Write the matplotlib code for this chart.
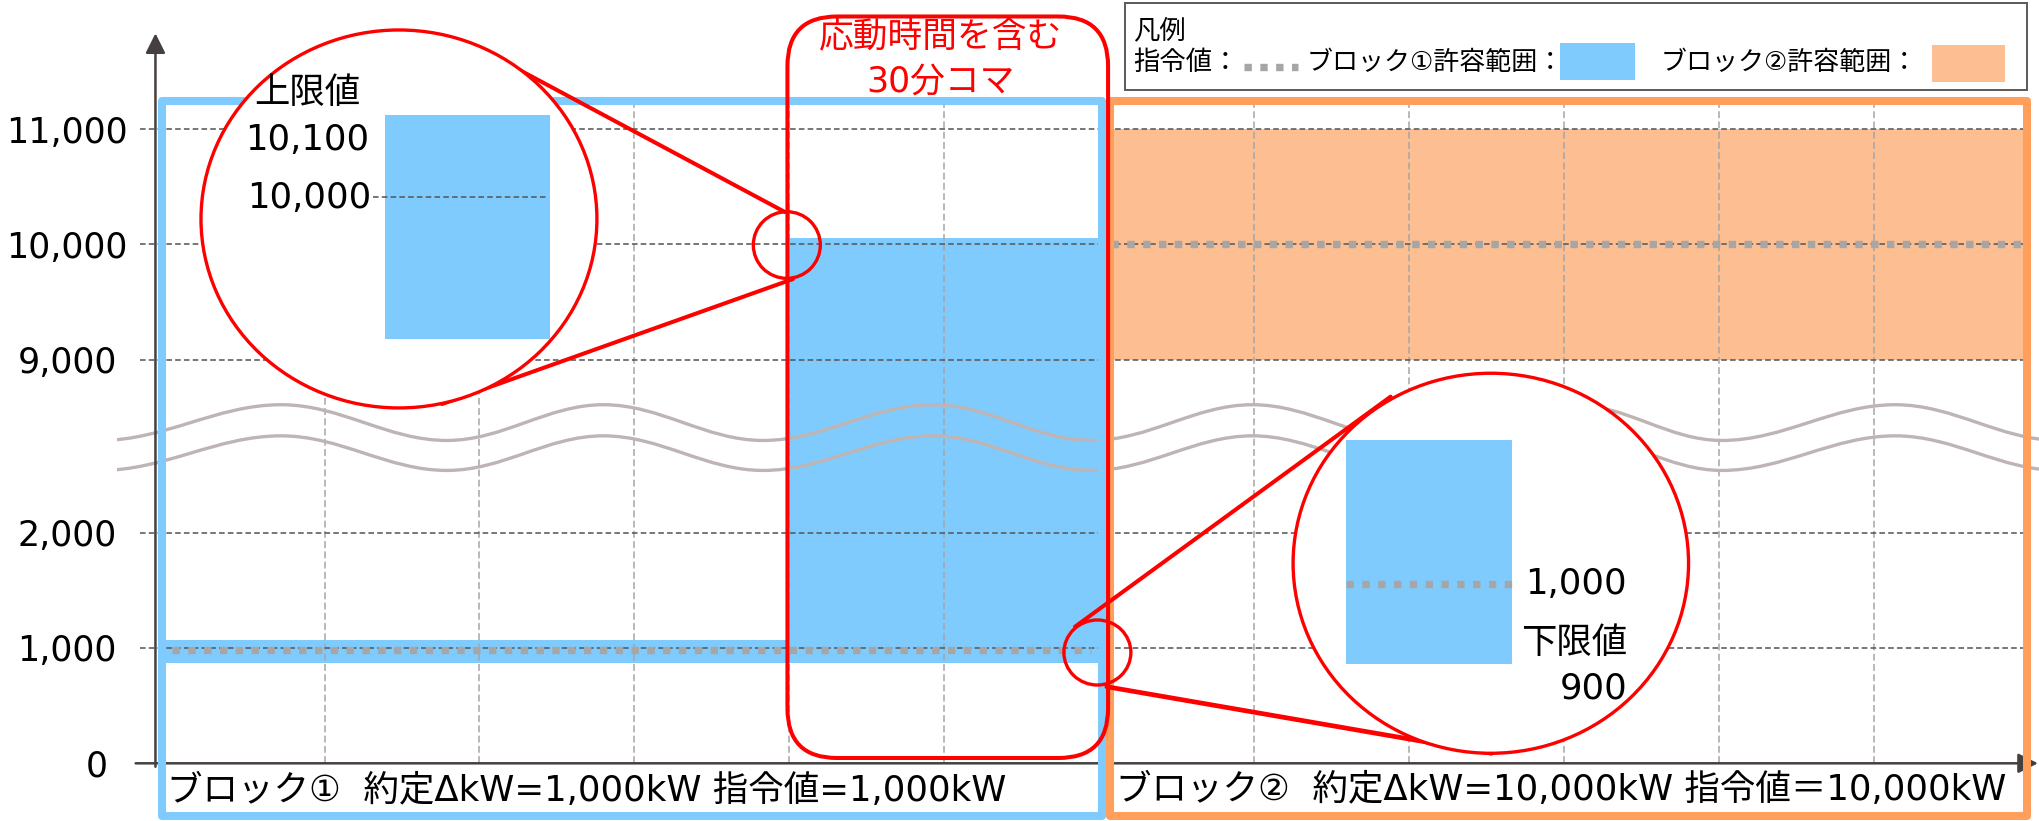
import numpy as np
import matplotlib.pyplot as plt
from matplotlib.patches import Rectangle, Ellipse, FancyBboxPatch, PathPatch
from matplotlib.path import Path

plt.rcParams['font.family'] = ['DejaVu Sans', 'Noto Sans CJK JP']

# --- data (kW) ---
ytick_values = [0, 1000, 2000, 9000, 10000, 11000]
ytick_labels = ['0', '1,000', '2,000', '9,000', '10,000', '11,000']
grid_values = [1000, 2000, 9000, 10000, 11000]
vgrid_x = list(range(1, 12))

# block 1: normal slots (0-4) and the 30 min slot with response time (4-6)
slot_edges = [-0.05, 4, 6]
b1_lower = [870, 870]
b1_upper = [1070, 10060]
b1_order = 985

# block 2
b2_x = [6.07, 12.0]
b2_lower = 9000
b2_upper = 11000
b2_order = 10000

# wavy break marks: extrema (x, upper line, lower line)
wave_x = [-0.45, 0.72, 1.79, 2.80, 3.83, 4.93, 5.95, 6.99, 8.03, 9.06, 10.02, 11.14, 12.2]
wave_hi = [2.80, 3.11] * 6 + [2.80]
wave_lo = [2.54, 2.84] * 6 + [2.54]

bottom_texts = ['ブロック①  約定ΔkW=1,000kW 指令値=1,000kW',
                'ブロック②  約定ΔkW=10,000kW 指令値＝10,000kW']

BLUE = '#80CBFE'
ORANGE_FILL = '#FDBE91'
ORANGE = '#FF9F5B'
GRAY_DOT = '#A6A6A6'
DARK = '#595959'
AXIS = '#463F3F'
WAVE = '#BEB4B4'
RED = '#FF0000'


def yb(v):
    # broken axis: 2,000-9,000 is cut away
    v = np.asarray(v, dtype=float)
    return np.where(v <= 5000, v / 1000, v / 1000 - 5.5)


fig = plt.figure(figsize=(20.39, 8.21), dpi=100)
ax = fig.add_axes([0, 0, 1, 1])
ax.set_xlim(-1.0956, 12.068)
ax.set_ylim(-0.5004, 6.620)
ax.axis('off')

# fills
ax.fill_between(slot_edges, yb(b1_lower + [b1_lower[-1]]), yb(b1_upper + [b1_upper[-1]]),
                step='post', color=BLUE, lw=0, zorder=1)
ax.fill_between(b2_x, yb(b2_lower), yb(b2_upper), color=ORANGE_FILL, lw=0, zorder=1)

# grid
ax.vlines(vgrid_x, 0, 5.74, colors=GRAY_DOT, lw=1.1, linestyles=(0, (4.5, 2.2)), zorder=2)
ax.hlines(yb(grid_values), -0.19, 12.0, colors=DARK, lw=1.15, linestyles=(0, (3.5, 2)), zorder=2)

# wavy break
for ys in (wave_hi, wave_lo):
    verts = [(wave_x[0], ys[0])]
    codes = [Path.MOVETO]
    for i in range(len(wave_x) - 1):
        dx = wave_x[i + 1] - wave_x[i]
        verts += [(wave_x[i] + 0.36 * dx, ys[i]), (wave_x[i + 1] - 0.36 * dx, ys[i + 1]),
                  (wave_x[i + 1], ys[i + 1])]
        codes += [Path.CURVE4] * 3
    pp = PathPatch(Path(verts, codes), fill=False, ec=WAVE, lw=2.4, zorder=3)
    ax.add_patch(pp)
    pp.set_clip_path(Rectangle((-0.34, -1), 20, 10, transform=ax.transData))

# command value (dotted)
dot = dict(color=GRAY_DOT, lw=5.3, ls=(0, (1, 1.15)))
ax.plot([0.015, 5.95], yb([b1_order] * 2), zorder=3.5, **dot)
ax.plot([6.08, 12.0], yb([b2_order] * 2), zorder=3.5, **dot)

# axes with arrows
arr = dict(arrowstyle='-|>,head_length=0.4,head_width=0.2', mutation_scale=30,
           color=AXIS, lw=1.8, shrinkA=0, shrinkB=0)
ax.annotate('', xy=(-0.092, 6.331), xytext=(-0.092, -0.03), arrowprops=arr, zorder=4)
ax.annotate('', xy=(12.061, 0), xytext=(-0.22, 0), arrowprops=arr, zorder=4)

for v, lab in zip(ytick_values, ytick_labels):
    ax.text(-0.47 if v == 0 else -0.662, yb(v) - 0.03, lab, ha='center', va='center',
            fontsize=25, zorder=6)

# block outlines
ax.add_patch(Rectangle((-0.05, -0.457), 6.07, 6.201, fill=False, ec=BLUE, lw=5.8,
                       joinstyle='round', zorder=5))
ax.add_patch(Rectangle((6.07, -0.457), 5.92, 6.201, fill=False, ec=ORANGE, lw=5.8,
                       joinstyle='round', zorder=5))
ax.text(-0.017, -0.24, bottom_texts[0], ha='left', va='center', fontsize=25.6, zorder=6)
ax.text(6.109, -0.232, bottom_texts[1], ha='left', va='center', fontsize=25.6, zorder=6)

# response time slot (red rounded box)
ax.add_patch(FancyBboxPatch((3.988, 0.046), 6.058 - 3.988, 6.477 - 0.046,
                            boxstyle='round,pad=0,rounding_size=0.32', mutation_aspect=1.344,
                            fill=False, ec=RED, lw=2.9, zorder=6))
ax.text(4.976, 6.302, '応動時間を含む', ha='center', va='center', fontsize=25, color=RED, zorder=6)
ax.text(4.976, 5.912, '30分コマ', ha='center', va='center', fontsize=25, color=RED, zorder=6)

# upper-limit magnifier
ax.plot([2.179, 3.972], [6.07, 4.781], color=RED, lw=2.9, zorder=7, solid_capstyle='round')
ax.plot([1.758, 4.024], [3.116, 4.200], color=RED, lw=2.9, zorder=7, solid_capstyle='round')
ax.add_patch(Ellipse((3.984, 4.495), 0.4325, 0.578, fill=False, ec=RED, lw=2.4, zorder=7))
ax.add_patch(Ellipse((1.480, 4.721), 2.556, 3.278, fc='white', ec=RED, lw=2.4, zorder=8))
ax.add_patch(Rectangle((1.387, 3.677), 2.455 - 1.387, 5.623 - 3.677, color=BLUE, lw=0, zorder=9))
ax.plot([1.312, 2.436], [4.914, 4.914], color=DARK, lw=1.15, ls=(0, (3.5, 2)), zorder=9)
ax.text(0.886, 5.811, '上限値', ha='center', va='center', fontsize=25.5, zorder=9)
ax.text(1.290, 5.406, '10,100', ha='right', va='center', fontsize=25.5, zorder=9)
ax.text(1.299, 4.903, '10,000', ha='right', va='center', fontsize=25.5, zorder=9)

# lower-limit magnifier
ax.plot([5.845, 7.882], [1.185, 3.180], color=RED, lw=2.9, zorder=7, solid_capstyle='round')
ax.plot([6.050, 8.534], [0.664, 0.087], color=RED, lw=3.4, zorder=7, solid_capstyle='round')
ax.add_patch(Ellipse((5.989, 0.961), 0.4325, 0.564, fill=False, ec=RED, lw=2.4, zorder=7))
ax.add_patch(Ellipse((8.529, 1.735), 2.553, 3.296, fc='white', ec=RED, lw=2.4, zorder=8))
ax.add_patch(Rectangle((7.597, 0.859), 8.664 - 7.597, 2.804 - 0.859, color=BLUE, lw=0, zorder=9))
ax.plot([7.597, 8.664], [1.555, 1.555], zorder=9.5, **dot)
ax.text(9.409, 1.555, '1,000', ha='right', va='center', fontsize=25.5, zorder=9)
ax.text(9.409, 1.041, '下限値', ha='right', va='center', fontsize=25.5, zorder=9)
ax.text(9.409, 0.650, '900', ha='right', va='center', fontsize=25.5, zorder=9)

# legend
ax.add_patch(Rectangle((6.167, 5.840), 11.99 - 6.167, 6.592 - 5.840, fc='white', ec=DARK,
                       lw=1.4, zorder=10))
ax.text(6.219, 6.345, '凡例', ha='left', va='center', fontsize=19, zorder=11)
ax.text(6.219, 6.075, '指令値：', ha='left', va='center', fontsize=19, zorder=11)
ax.plot([6.935, 7.284], [6.042, 6.042], zorder=11, **dot)
ax.text(7.340, 6.075, 'ブロック①許容範囲：', ha='left', va='center', fontsize=18.7, zorder=11)
ax.add_patch(Rectangle((8.976, 5.926), 9.461 - 8.976, 6.250 - 5.926, color=BLUE, lw=0, zorder=11))
ax.text(9.628, 6.075, 'ブロック②許容範囲：', ha='left', va='center', fontsize=18.7, zorder=11)
ax.add_patch(Rectangle((11.378, 5.912), 11.849 - 11.378, 6.230 - 5.912, color=ORANGE_FILL,
                       lw=0, zorder=11))

fig.savefig('out.png', dpi=100)
